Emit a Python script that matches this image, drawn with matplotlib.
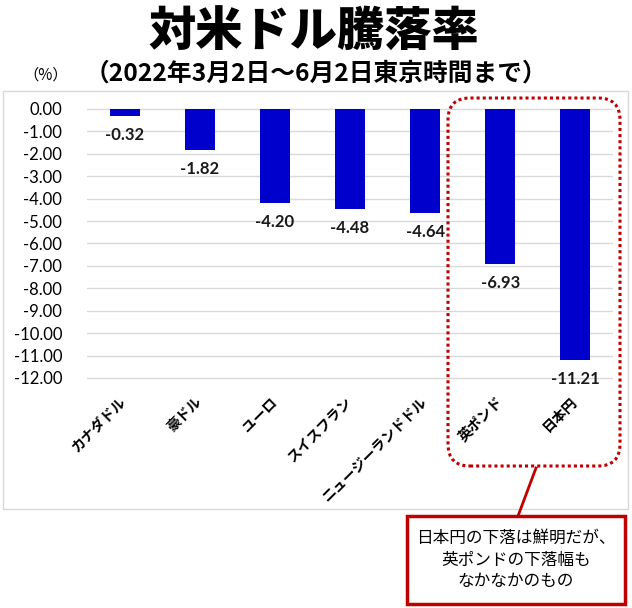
import matplotlib
matplotlib.use("Agg")
import numpy as np
import matplotlib.pyplot as plt
from matplotlib.patches import FancyBboxPatch, Rectangle
from matplotlib.lines import Line2D
from matplotlib.transforms import IdentityTransform

plt.rcParams['font.family'] = ['Noto Sans CJK JP', 'DejaVu Sans']

# Data
currencies = ["カナダドル", "豪ドル", "ユーロ", "スイスフラン",
              "ニュージーランドドル", "英ポンド", "日本円"]
changes = [-0.32, -1.82, -4.20, -4.48, -4.64, -6.93, -11.21]
yticks = np.arange(0, -13, -1)

title = "対米ドル騰落率"
subtitle = "（2022年3月2日～6月2日東京時間まで）"
note = "日本円の下落は鮮明だが、\n英ポンドの下落幅も\nなかなかのもの"

W, H = 632, 608
RED = '#C00000'
fig = plt.figure(figsize=(W / 100, H / 100), dpi=100)


def px(x0, y0, x1, y1):
    # image pixel box (top-left origin) -> figure fraction rect
    return [x0 / W, 1 - y1 / H, (x1 - x0) / W, (y1 - y0) / H]


# chart area frame
fig.add_artist(Rectangle((3 / W, 1 - 509 / H), 625 / W, 418 / H,
                         transform=fig.transFigure, fill=False,
                         ec='#D9D9D9', lw=1))

unit = (378 - 109) / 12.0
ax = fig.add_axes(px(87, 109 - 0.1 * unit, 613, 378 + 0.1 * unit))
x = np.arange(len(currencies))
ax.bar(x, changes, width=0.4, color='#0000CC', zorder=3)
ax.set_xlim(-0.5, len(currencies) - 0.5)
ax.set_ylim(-12.1, 0.1)
ax.set_yticks(yticks)
ax.set_yticklabels([f"{v:.2f}" for v in yticks], fontfamily='Lato', fontsize=12)
ax.tick_params(axis='y', length=0, pad=18)
ax.grid(axis='y', color='#D9D9D9', lw=1, zorder=0)
ax.set_xticks(x)
ax.set_xticklabels(currencies, rotation=45, ha='right', va='center',
                   rotation_mode='anchor', fontsize=10.2, fontweight='bold')
ax.tick_params(axis='x', length=0, pad=14)
for s in ax.spines.values():
    s.set_visible(False)

for xi, v in zip(x, changes):
    ax.annotate(f"{v:.2f}", (xi, v), xytext=(0, -13.5), textcoords='offset points',
                ha='center', va='center', fontfamily='Lato', fontweight='bold',
                fontsize=12, color='#1a1a1a', annotation_clip=False)

# titles
fig.text(314 / W, 1 - 33 / H, title, ha='center', va='center',
         fontsize=34, fontweight='black')
fig.text(316 / W, 1 - 74 / H, subtitle, ha='center', va='center',
         fontsize=17.8, fontweight='bold')
fig.text(46 / W, 1 - 75 / H, "（%）", ha='center', va='center', fontsize=11)

# highlight box around the last two bars
fig.add_artist(FancyBboxPatch((448, H - 466), 172, 368,
                              boxstyle='round,pad=0,rounding_size=22',
                              transform=IdentityTransform(), fill=False,
                              ec=RED, lw=2.2, ls=(0, (1, 1))))

# callout
fig.add_artist(Line2D([536, 518], [H - 468, H - 516], transform=IdentityTransform(),
                      color=RED, lw=2))
fig.add_artist(Rectangle((407, H - 604), 218, 88, transform=IdentityTransform(),
                         fc='white', ec=RED, lw=2.5))
fig.text(516 / W, 1 - 560 / H, note, ha='center', va='center',
         fontsize=12, linespacing=1.38)

fig.savefig('out.png', dpi=100)
